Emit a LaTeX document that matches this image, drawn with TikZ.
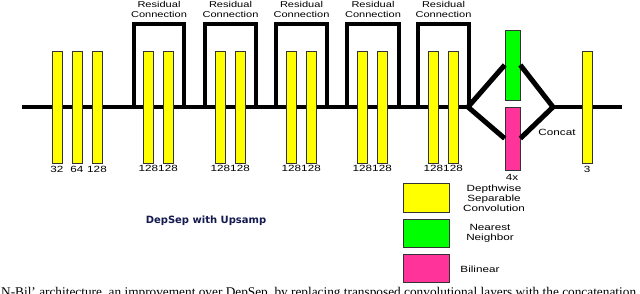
\documentclass[tikz,border=0pt]{standalone}
\usepackage{fontspec}
\setmainfont{Liberation Sans}
\newfontfamily\lab[FakeStretch=1.3]{Liberation Sans}
\newfontfamily\capfont{Liberation Serif}
\newfontfamily\titfont{DejaVu Sans}
\definecolor{ybar}{RGB}{255,255,0}
\definecolor{gbar}{RGB}{0,255,0}
\definecolor{pbar}{RGB}{255,51,153}
\definecolor{navy}{RGB}{20,25,80}
\begin{document}
\begin{tikzpicture}[x=1pt,y=-1pt,
  bar/.style={draw=black!80, line width=0.6pt, minimum width=10pt, minimum height=112pt, inner sep=0pt, fill=ybar},
  ubar/.style={draw=black!80, line width=0.6pt, minimum width=15pt, inner sep=0pt},
  num/.style={font=\lab\fontsize{9}{9}\selectfont, inner sep=0pt, anchor=north},
  rlab/.style={font=\lab\fontsize{8.5}{10}\selectfont, align=center, inner sep=0pt},
  leg/.style={draw=black!80, line width=0.6pt, minimum width=46pt, minimum height=28pt, inner sep=0pt},
  legtxt/.style={font=\lab\fontsize{9}{10}\selectfont, align=center, inner sep=0pt},
  wire/.style={line width=4pt},
  dwire/.style={line width=5pt}
]
\useasboundingbox (0,0) rectangle (640,293);
\clip (0,0) rectangle (640,293);
\fill[white] (0,0) rectangle (640,293);

% main line coordinates
\coordinate (start) at (22,107);
\coordinate (split) at (468,107);
\coordinate (join) at (553,107);
\coordinate (end) at (622,107);
\draw[wire] (start) -- (split);
\draw[wire] (join) -- (end);

% residual brackets
\foreach \l/\r [count=\i] in {134/184, 205/256, 276/327, 347/399, 418/469}{
  \coordinate (rl\i) at (\l,107);
  \coordinate (rr\i) at (\r,107);
  \coordinate (rt\i) at (\l,23.5);
  \draw[wire] (rl\i) -- (rt\i) -| (rr\i);
  \node[rlab] (rlab\i) at ({(\l+\r)/2},9) {Residual\\Connection};
}

% yellow bars
\node[bar] (a1) at (57,107) {};
\node[bar] (a2) at (77,107) {};
\node[bar] (a3) at (97,107) {};
\node[num] (n1) at (a1.south) [yshift=-2.5pt] {32};
\node[num] (n2) at (a2.south) [yshift=-2.5pt] {64};
\node[num] (n3) at (a3.south) [yshift=-2.5pt] {128};

\foreach \c [count=\i] in {148, 220, 291, 362, 433}{
  \node[bar] (p\i a) at (\c,107) {};
  \node[bar] (p\i b) at (\c+20.5,107) {};
  \node[num] (pl\i) at ({\c+10.25},165.5) {128128};
}

% upsampling
\node[ubar, fill=gbar, minimum height=70pt] (g) at (512.5,65) {};
\node[ubar, fill=pbar, minimum height=63pt] (pk) at (512.5,138.5) {};
\draw[dwire] (split) -- (g.west);
\draw[dwire] (split) -- (pk.west);
\draw[dwire] (g.east) -- (join);
\draw[dwire] (pk.east) -- (join);
\node[num, anchor=center] (four) at (512,177) {4x};

\node[bar] (last) at (587,107) {};
\node[num] (n3b) at (last.south) [yshift=-2.5pt] {3};
\node[num, anchor=center] (concat) at (557,132) {Concat};

% legend
\node[leg, fill=ybar, minimum height=29pt] (ly) at (426,197.5) {};
\node[leg, fill=gbar] (lg) at (426,233) {};
\node[leg, fill=pbar] (lp) at (426,268) {};
\node[legtxt] (ty) at (494,198) {Depthwise\\Separable\\Convolution};
\node[legtxt] (tg) at (490,233) {Nearest\\Neighbor};
\node[legtxt] (tp) at (480,269) {Bilinear};

\node[font=\titfont\bfseries\fontsize{10}{10}\selectfont, text=navy, inner sep=0pt] (title) at (206,221) {DepSep with Upsamp};

\node[font=\capfont\fontsize{13.3}{13.3}\selectfont, anchor=base west, inner sep=0pt] (cap) at (1,296.5) {N-Bil’ architecture, an improvement over DepSep, by replacing transposed convolutional layers with the concatenation};
\end{tikzpicture}
\end{document}
